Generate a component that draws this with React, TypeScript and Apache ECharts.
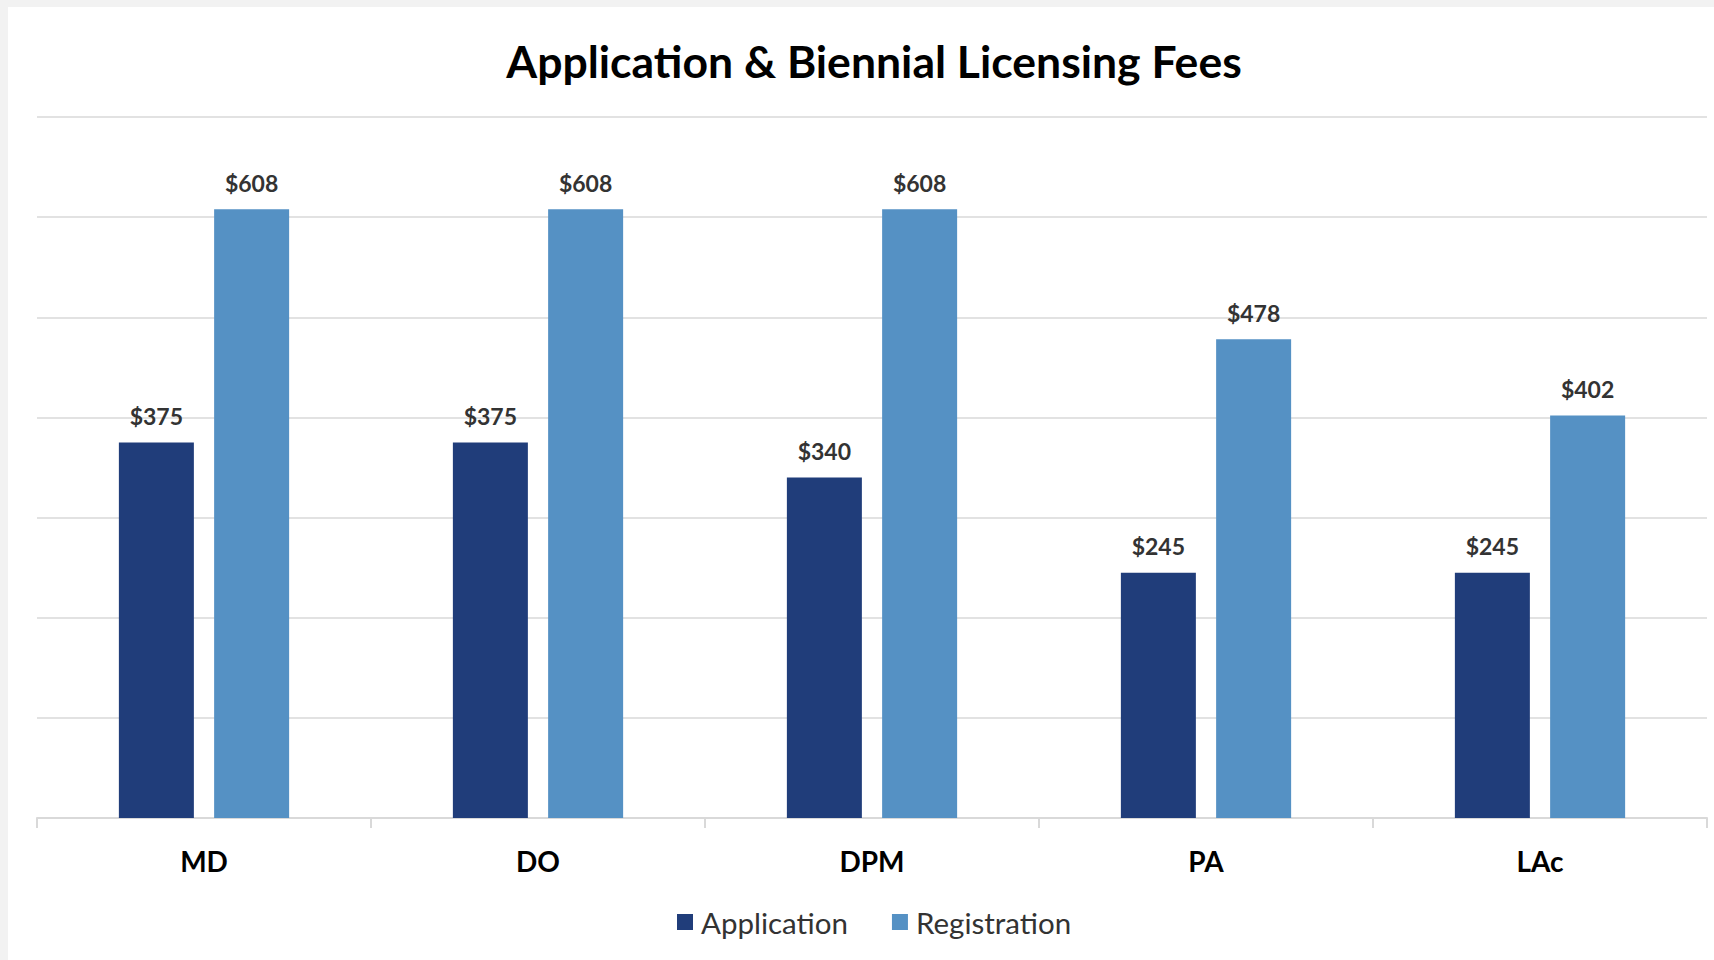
import React, { useEffect, useRef } from "react";
import * as echarts from "echarts";

const categories = ["MD", "DO", "DPM", "PA", "LAc"];
const applicationFees = [375, 375, 340, 245, 245];
const registrationFees = [608, 608, 608, 478, 402];
const seriesNames = ["Application", "Registration"];
const titleText = "Application & Biennial Licensing Fees";

const FONT = "Lato, 'Noto Sans', sans-serif";

export default function App() {
  const ref = useRef<HTMLDivElement>(null);
  useEffect(() => {
    if (!ref.current) return;
    const chart = echarts.init(ref.current, null, { renderer: "svg" });
    const labelStyle = {
      show: true,
      position: "top" as const,
      distance: 15,
      formatter: (p: any) => "$" + p.value,
      fontFamily: FONT,
      fontWeight: "bold" as const,
      fontSize: 23,
      color: "#333333",
    };
    chart.setOption({
      animation: false,
      backgroundColor: "#ffffff",
      title: {
        text: titleText,
        left: 861,
        top: 26,
        textAlign: "center",
        textStyle: { fontFamily: FONT, fontWeight: "bold", fontSize: 44.5, color: "#000000" },
      },
      legend: {
        data: seriesNames,
        top: 895,
        left: 664,
        icon: "rect",
        itemWidth: 16,
        itemHeight: 16,
        itemGap: 44,
        textStyle: { fontFamily: FONT, fontSize: 29.5, color: "#333333", padding: [0, 0, 0, 3] },
      },
      grid: { left: 29, right: 7, top: 110, bottom: 142, containLabel: false },
      xAxis: {
        type: "category",
        data: categories,
        axisLine: { show: true, lineStyle: { color: "#d9d9d9", width: 2 } },
        axisTick: { show: true, length: 10, alignWithLabel: false, lineStyle: { color: "#d9d9d9", width: 2 } },
        axisLabel: { margin: 29, fontFamily: FONT, fontWeight: "bold", fontSize: 28, color: "#000000" },
      },
      yAxis: {
        type: "value",
        min: 0,
        max: 700,
        interval: 100,
        axisLabel: { show: false },
        axisLine: { show: false },
        axisTick: { show: false },
        splitLine: { show: true, lineStyle: { color: "#d9d9d9", width: 1.5 } },
      },
      series: [
        {
          name: seriesNames[0],
          type: "bar",
          data: applicationFees,
          barWidth: 75,
          barGap: "27%",
          itemStyle: { color: "#203d7a" },
          label: labelStyle,
        },
        {
          name: seriesNames[1],
          type: "bar",
          data: registrationFees,
          barWidth: 75,
          barGap: "27%",
          itemStyle: { color: "#5591c4" },
          label: labelStyle,
        },
      ],
    });
    return () => chart.dispose();
  }, []);
  return (
    <div style={{ position: "fixed", left: 0, top: 0, width: 1714, height: 960, background: "#f2f2f2" }}>
      <div
        ref={ref}
        style={{ position: "absolute", left: 8, top: 7, width: 1706, height: 953, background: "#ffffff" }}
      />
    </div>
  );
}
